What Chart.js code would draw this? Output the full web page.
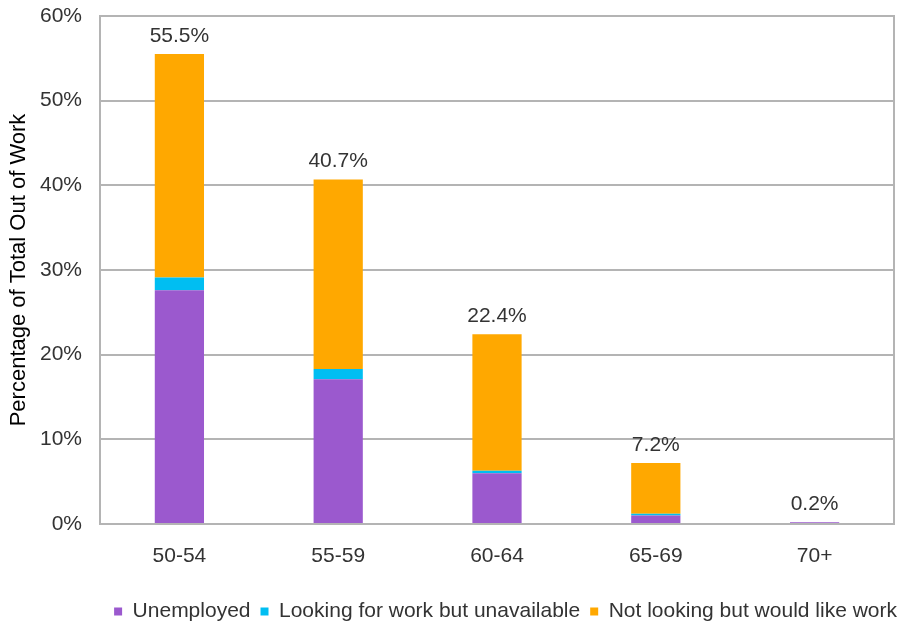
<!DOCTYPE html>
<html>
<head>
<meta charset="utf-8">
<title>Out of Work by Age</title>
<script src="https://cdn.jsdelivr.net/npm/chart.js@4/dist/chart.umd.min.js"></script>
<style>
  html, body {
    margin: 0;
    padding: 0;
    background: #ffffff;
  }

  #chart-wrap {
    position: relative;
    width: 907px;
    height: 623px;
  }
</style>
</head>
<body>
<div id="chart-wrap">
  <canvas id="work-chart" width="907" height="623"></canvas>
</div>
<script>
const ageGroups = ["50-54", "55-59", "60-64", "65-69", "70+"];
const unemployed = [27.6, 17.1, 6.0, 1.0, 0.2];
const lookingUnavailable = [1.5, 1.2, 0.3, 0.2, 0.0];
const notLookingWouldLike = [26.4, 22.4, 16.1, 6.0, 0.0];
const yTicks = [0, 10, 20, 30, 40, 50, 60];

const FONT_FAMILY = "'Liberation Sans', Arial, Helvetica, sans-serif";
const TEXT_COLOR = "#333333";
const GRID_COLOR = "#b4b4b4";

// frame around the plot area, like the original spreadsheet chart
const plotFramePlugin = {
  id: "plotFrame",
  beforeDatasetsDraw(chart) {
    const { ctx, chartArea } = chart;
    ctx.save();
    ctx.strokeStyle = GRID_COLOR;
    ctx.lineWidth = 2;
    ctx.strokeRect(
      chartArea.left,
      chartArea.top,
      chartArea.right - chartArea.left,
      chartArea.bottom - chartArea.top
    );
    ctx.restore();
  },
};

// total percentage printed above each stacked bar
const totalLabelPlugin = {
  id: "totalLabels",
  afterDatasetsDraw(chart) {
    const { ctx, scales } = chart;
    ctx.save();
    ctx.font = `21px ${FONT_FAMILY}`;
    ctx.fillStyle = TEXT_COLOR;
    ctx.textAlign = "center";
    ctx.textBaseline = "alphabetic";

    ageGroups.forEach((_, index) => {
      const total =
        unemployed[index] + lookingUnavailable[index] + notLookingWouldLike[index];
      const x = scales.x.getPixelForValue(index);
      const y = scales.y.getPixelForValue(total);
      ctx.fillText(`${total.toFixed(1)}%`, x, y - 12);
    });

    ctx.restore();
  },
};

function buildDataset(label, values, color) {
  return {
    label,
    data: values,
    backgroundColor: color,
    borderWidth: 0,
    barPercentage: 0.31,
    categoryPercentage: 1,
  };
}

function renderChart() {
  const canvas = document.getElementById("work-chart");

  new Chart(canvas, {
    type: "bar",
    data: {
      labels: ageGroups,
      datasets: [
        buildDataset("Unemployed", unemployed, "#9b59ce"),
        buildDataset("Looking for work but unavailable", lookingUnavailable, "#00bef2"),
        buildDataset("Not looking but would like work", notLookingWouldLike, "#ffa800"),
      ],
    },
    options: {
      responsive: false,
      animation: false,
      layout: {
        padding: { top: 16, right: 0, left: 0, bottom: -9 },
      },
      plugins: {
        tooltip: { enabled: false },
        legend: {
          position: "bottom",
          align: "end",
          labels: {
            boxWidth: 8,
            boxHeight: 8,
            padding: 10,
            color: TEXT_COLOR,
            font: { family: FONT_FAMILY, size: 21 },
          },
        },
      },
      scales: {
        x: {
          stacked: true,
          grid: { display: false },
          border: { display: false },
          ticks: {
            color: TEXT_COLOR,
            padding: 12,
            font: { family: FONT_FAMILY, size: 21 },
          },
          afterFit(scale) {
            scale.height = 67;
          },
        },
        y: {
          stacked: true,
          min: yTicks[0],
          max: yTicks[yTicks.length - 1],
          afterBuildTicks(scale) {
            scale.ticks = yTicks.map((value) => ({ value }));
          },
          grid: {
            color: GRID_COLOR,
            lineWidth: 2,
            drawTicks: false,
          },
          border: { display: false },
          ticks: {
            color: TEXT_COLOR,
            padding: 18,
            font: { family: FONT_FAMILY, size: 21 },
            callback: (value) => `${value}%`,
          },
          title: {
            display: true,
            text: "Percentage of Total Out of Work",
            color: "#000000",
            padding: { top: 6, bottom: 0 },
            font: { family: FONT_FAMILY, size: 22 },
          },
          afterFit(scale) {
            scale.width = 100;
            // let the layout padding alone decide where the plot starts
            scale.paddingTop = 0;
            scale.paddingBottom = 0;
          },
        },
        // empty strip on the right, keeps the plot edge off the canvas edge
        yRight: {
          position: "right",
          grid: { display: false },
          border: { display: false },
          ticks: { display: false },
          afterFit(scale) {
            scale.width = 13;
          },
        },
      },
    },
    plugins: [plotFramePlugin, totalLabelPlugin],
  });
}

renderChart();
</script>
</body>
</html>
